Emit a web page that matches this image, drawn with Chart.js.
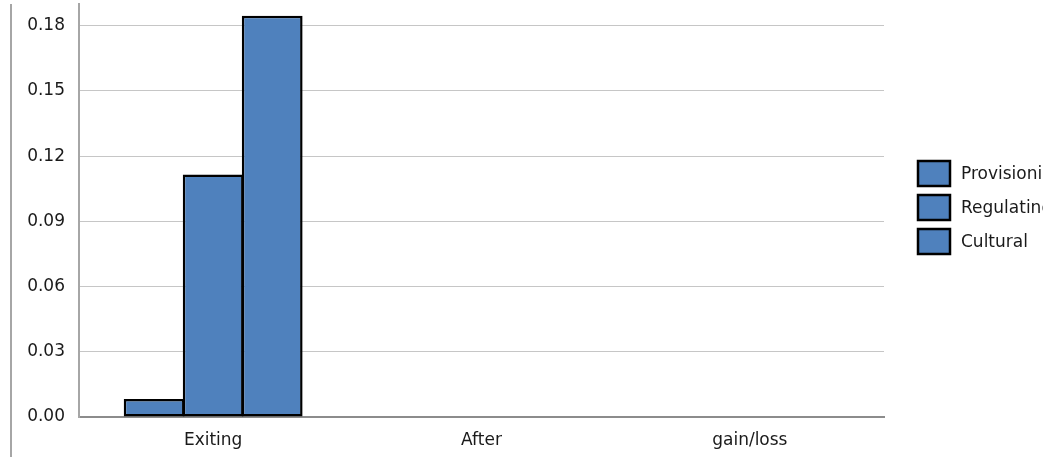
<!DOCTYPE html>
<html>
<head>
<meta charset="utf-8">
<script src="https://cdn.jsdelivr.net/npm/chart.js@4.4.1/dist/chart.umd.min.js"></script>
<style>
  html, body { margin: 0; padding: 0; background: #ffffff; overflow: hidden; }
  #wrap { position: relative; width: 1043px; height: 457px; }
</style>
</head>
<body>
<div id="wrap"><canvas id="chart" width="1043" height="457"></canvas></div>
<script>
// Categories and series values
const categories = ['Exiting', 'After', 'gain/loss'];
const provisioning = [0.0083, null, null];
const regulating = [0.1116, null, null];
const cultural = [0.1846, null, null];
const seriesNames = ['Provisioning', 'Regulating', 'Cultural'];
const yTicks = [0.00, 0.03, 0.06, 0.09, 0.12, 0.15, 0.18];

const FILL = '#4f81bd';
const FONT = 'DejaVu Sans';

// Frame line on the left and the series key on the right
const decorations = {
  id: 'decorations',
  afterDraw(chart) {
    const ctx = chart.ctx;
    ctx.save();
    ctx.strokeStyle = '#a6a6a6';
    ctx.lineWidth = 2;
    ctx.beginPath();
    ctx.moveTo(11, 4);
    ctx.lineTo(11, 457);
    ctx.stroke();

    const x0 = 918, y0 = 161, rowH = 34, bw = 32, bh = 25;
    ctx.font = '17px "' + FONT + '"';
    ctx.textBaseline = 'middle';
    ctx.textAlign = 'left';
    chart.data.datasets.forEach((ds, i) => {
      const y = y0 + i * rowH;
      ctx.fillStyle = ds.backgroundColor;
      ctx.fillRect(x0, y, bw, bh);
      ctx.strokeStyle = '#000000';
      ctx.lineWidth = 2.5;
      ctx.strokeRect(x0, y, bw, bh);
      ctx.fillStyle = '#1a1a1a';
      ctx.fillText(ds.label, 961, y + bh / 2 + 1);
    });
    ctx.restore();
  }
};

const datasets = [provisioning, regulating, cultural].map((vals, i) => ({
  label: seriesNames[i],
  data: vals,
  backgroundColor: FILL,
  borderColor: '#000000',
  borderWidth: 2.5,
  borderSkipped: false,
  barPercentage: 1.03,
  categoryPercentage: 0.66
}));

new Chart(document.getElementById('chart'), {
  type: 'bar',
  data: { labels: categories, datasets },
  options: {
    responsive: false,
    animation: false,
    layout: { padding: { top: 4, right: 159, left: 0, bottom: 0 } },
    plugins: {
      legend: { display: false },
      tooltip: { enabled: false }
    },
    scales: {
      x: {
        grid: { display: false, drawTicks: false },
        border: { display: true, color: '#8c8c8c', width: 2 },
        ticks: {
          color: '#1a1a1a',
          font: { family: FONT, size: 17 },
          padding: 13
        },
        afterFit(scale) {
          scale.height = 40;
          scale.paddingLeft = 0;
          scale.paddingRight = 0;
        }
      },
      y: {
        min: 0,
        max: 0.19,
        afterBuildTicks(scale) {
          scale.ticks = yTicks.map(v => ({ value: v }));
        },
        grid: { color: '#c6c6c6', lineWidth: 1, drawTicks: false },
        border: { display: true, color: '#a6a6a6', width: 2 },
        ticks: {
          color: '#1a1a1a',
          font: { family: FONT, size: 17 },
          padding: 14,
          callback: v => Number(v).toFixed(2)
        },
        afterFit(scale) {
          scale.width = 79;
          scale.paddingTop = 0;
          scale.paddingBottom = 0;
        }
      }
    }
  },
  plugins: [decorations]
});
</script>
</body>
</html>
